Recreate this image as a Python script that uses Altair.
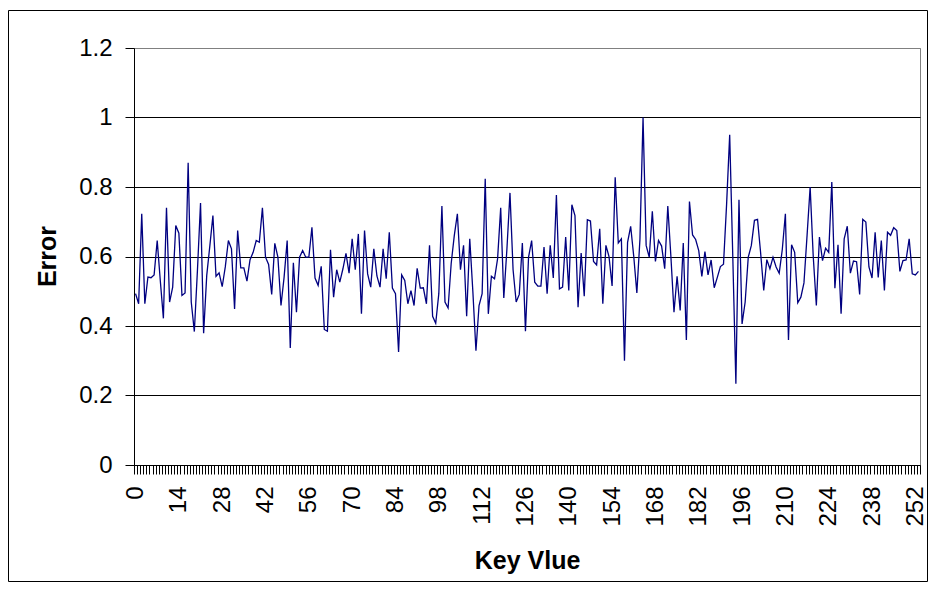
import altair as alt
import pandas as pd

# Error values, one per key value 0..253
errors_0_30 = [0.493, 0.464, 0.723, 0.464, 0.541, 0.539, 0.547, 0.646, 0.53, 0.422,
               0.740, 0.469, 0.512, 0.689, 0.667, 0.488, 0.495, 0.870, 0.469, 0.384,
               0.56, 0.754, 0.379, 0.545, 0.63, 0.718, 0.543, 0.553, 0.513, 0.57, 0.646]
errors_31_62 = [0.622, 0.449, 0.675, 0.567, 0.567, 0.529, 0.591, 0.612, 0.646, 0.641,
                0.740, 0.598, 0.577, 0.491, 0.638, 0.598, 0.459, 0.54, 0.646, 0.337,
                0.582, 0.44, 0.598, 0.617, 0.598, 0.598, 0.684, 0.538, 0.517, 0.572,
                0.39, 0.385]
errors_63_94 = [0.619, 0.483, 0.562, 0.526, 0.564, 0.609, 0.552, 0.651, 0.562, 0.665,
                0.435, 0.675, 0.55, 0.512, 0.622, 0.544, 0.512, 0.622, 0.536, 0.67,
                0.509, 0.493, 0.325, 0.547, 0.531, 0.464, 0.502, 0.459, 0.566, 0.509,
                0.51, 0.464]
errors_95_126 = [0.632, 0.428, 0.408, 0.493, 0.745, 0.469, 0.452, 0.58, 0.66, 0.723,
                 0.562, 0.632, 0.428, 0.651, 0.5, 0.329, 0.459, 0.493, 0.824, 0.435,
                 0.543, 0.536, 0.594, 0.74, 0.481, 0.62, 0.783, 0.562, 0.469, 0.491,
                 0.639, 0.385]
errors_127_158 = [0.598, 0.646, 0.526, 0.515, 0.515, 0.627, 0.493, 0.632, 0.538, 0.777,
                  0.507, 0.512, 0.656, 0.502, 0.749, 0.718, 0.454, 0.61, 0.486, 0.706,
                  0.702, 0.586, 0.576, 0.68, 0.464, 0.632, 0.6, 0.515, 0.828, 0.639,
                  0.651, 0.30]
errors_159_190 = [0.641, 0.687, 0.6, 0.495, 0.65, 1.0, 0.632, 0.598, 0.73, 0.586,
                  0.646, 0.63, 0.565, 0.745, 0.6, 0.44, 0.543, 0.445, 0.639, 0.36,
                  0.758, 0.662, 0.649, 0.617, 0.543, 0.614, 0.547, 0.59, 0.51, 0.54,
                  0.571, 0.578]
errors_191_222 = [0.75, 0.95, 0.6, 0.234, 0.763, 0.406, 0.469, 0.598, 0.632, 0.704,
                  0.707, 0.61, 0.502, 0.591, 0.565, 0.598, 0.57, 0.552, 0.62, 0.723,
                  0.36, 0.634, 0.612, 0.467, 0.483, 0.524, 0.66, 0.80, 0.6, 0.459,
                  0.656, 0.588]
errors_223_253 = [0.624, 0.612, 0.814, 0.509, 0.634, 0.435, 0.651, 0.687, 0.552, 0.587,
                  0.585, 0.491, 0.707, 0.699, 0.57, 0.538, 0.67, 0.54, 0.646, 0.502,
                  0.67, 0.661, 0.683, 0.675, 0.557, 0.588, 0.59, 0.651, 0.55, 0.547,
                  0.557]

errors = (errors_0_30 + errors_31_62 + errors_63_94 + errors_95_126 +
          errors_127_158 + errors_159_190 + errors_191_222 + errors_223_253)
keys = list(range(len(errors)))

y_ticks = [0, 0.2, 0.4, 0.6, 0.8, 1.0, 1.2]
label_step = 14

df = pd.DataFrame({"key": keys, "error": errors})
n = len(keys)
boundaries = [k - 0.5 for k in range(n + 1)]

FONT = "Liberation Sans"
W, H = 786, 417
PAD_L, PAD_T = 126, 40
CANVAS_W, CANVAS_H = 920, 574

x_scale = alt.Scale(domain=[-0.5, n - 0.5], nice=False, zero=False)
y_scale = alt.Scale(domain=[0, 1.2], nice=False)

line = alt.Chart(df).mark_line(color="#000080", strokeWidth=1.3).encode(
    x=alt.X("key:Q", scale=x_scale,
            axis=alt.Axis(
                values=boundaries,
                labelExpr=f"(datum.value + 0.5) % {label_step} == 0 ? format(datum.value + 0.5, 'd') : ''",
                labelAngle=270, labelOffset=1.55, labelOverlap=False, labelFlush=False,
                labelFont=FONT, labelFontSize=24, labelColor="black", labelPadding=12,
                tickSize=9, tickColor="black", tickWidth=1,
                domainColor="black", domainWidth=1, grid=False,
                title="Key Vlue", titleFont=FONT, titleFontSize=25, titleFontWeight="bold",
                titleColor="black", titleX=W / 2, titleY=103, titleAlign="center",
                titleBaseline="alphabetic")),
    y=alt.Y("error:Q", scale=y_scale,
            axis=alt.Axis(
                values=y_ticks, format="~g",
                labelFont=FONT, labelFontSize=24, labelColor="black", labelPadding=13,
                tickSize=9, tickColor="black", tickWidth=1,
                domainColor="black", domainWidth=1,
                grid=True, gridWidth=1,
                gridColor={"condition": {"test": "datum.value >= 1.2", "value": "#808080"},
                           "value": "black"},
                title="Error", titleFont=FONT, titleFontSize=25, titleFontWeight="bold",
                titleColor="black", titleAngle=270, titleX=-79, titleY=208,
                titleAlign="center", titleBaseline="alphabetic")),
)

frame = alt.Chart(pd.DataFrame({"f": [0]})).mark_rect(
    filled=False, stroke="black", strokeWidth=1, fill=None
).encode(
    x=alt.value(-PAD_L + 0.5), x2=alt.value(CANVAS_W - PAD_L - 0.5),
    y=alt.value(-PAD_T + 2.5), y2=alt.value(CANVAS_H - PAD_T - 0.5),
)

chart = alt.layer(line, frame).properties(
    width=W, height=H,
    autosize=alt.AutoSizeParams(type="none"),
    padding={"left": PAD_L, "top": PAD_T, "right": CANVAS_W - PAD_L - W,
             "bottom": CANVAS_H - PAD_T - H},
    background="white",
).configure_view(stroke="#808080", strokeWidth=1)

chart.save("out.html", embed_options={"renderer": "svg", "actions": False})
